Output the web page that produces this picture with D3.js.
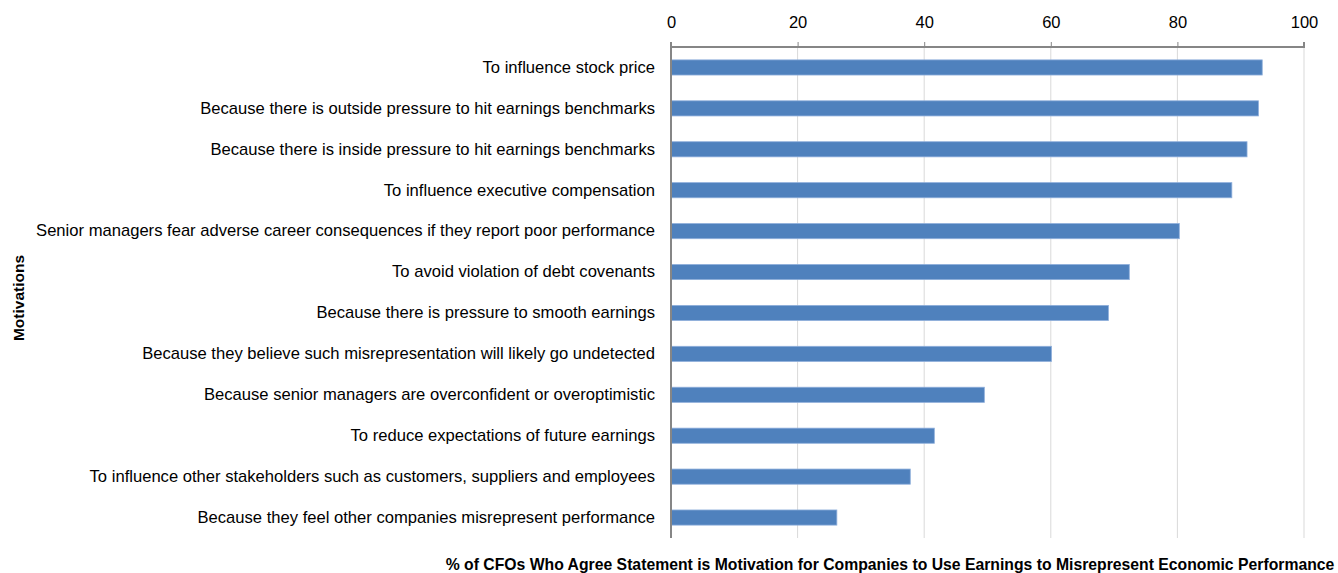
<!DOCTYPE html>
<html lang="en">
<head>
    <meta charset="UTF-8">
    <title>Motivations</title>
    <script src="https://cdn.jsdelivr.net/npm/d3@7"></script>
    <style>
        body { margin: 0; background: #fff; }
        text { font-family: "Liberation Sans", Arial, sans-serif; fill: #000; }
        .bold { font-weight: bold; }
    </style>
</head>
<body>
    <div id="chart"></div>
    <script>
        var categories = [
            "To influence stock price",
            "Because there is outside pressure to hit earnings benchmarks",
            "Because there is inside pressure to hit earnings benchmarks",
            "To influence executive compensation",
            "Senior managers fear adverse career consequences if they report poor performance",
            "To avoid violation of debt covenants",
            "Because there is pressure to smooth earnings",
            "Because they believe such misrepresentation will likely go undetected",
            "Because senior managers are overconfident or overoptimistic",
            "To reduce expectations of future earnings",
            "To influence other stakeholders such as customers, suppliers and employees",
            "Because they feel other companies misrepresent performance"
        ];
        var values = [93.4, 92.8, 91.0, 88.6, 80.3, 72.4, 69.1, 60.1, 49.5, 41.6, 37.8, 26.2];
        var ticks = [0, 20, 40, 60, 80, 100];

        var W = 1338, H = 573;
        var margin = { top: 47, right: 34, bottom: 35, left: 671 };
        var width = W - margin.left - margin.right,
            height = H - margin.top - margin.bottom;

        var svg = d3.select("#chart").append("svg")
            .attr("width", W)
            .attr("height", H);
        var g = svg.append("g")
            .attr("transform", "translate(" + margin.left + "," + margin.top + ")");

        var x = d3.scaleLinear().domain([0, 100]).range([0, width]);
        var y = d3.scaleBand().domain(categories).range([0, height]).paddingInner(0.63).paddingOuter(0.315);

        // gridlines
        g.append("g").selectAll("line")
            .data(ticks.slice(1))
            .enter().append("line")
            .attr("x1", function (d) { return x(d); })
            .attr("x2", function (d) { return x(d); })
            .attr("y1", 0)
            .attr("y2", height)
            .style("stroke", "#d9d9d9")
            .style("stroke-width", 1);

        // bars
        g.append("g").selectAll("rect")
            .data(values)
            .enter().append("rect")
            .attr("x", 0.5)
            .attr("y", function (d, i) { return y(categories[i]); })
            .attr("width", function (d) { return x(d) - 0.5; })
            .attr("height", y.bandwidth())
            .style("fill", "#4f81bd")
            .style("stroke", "#8eaedb")
            .style("stroke-width", 0.8);

        // top axis
        var xAxis = g.append("g")
            .call(d3.axisTop(x).tickValues(ticks).tickSize(5).tickPadding(14));
        xAxis.select(".domain").attr("d", "M0,-5V0H" + width + "V-5").style("stroke", "#868686").style("stroke-width", 2);
        xAxis.selectAll(".tick line").style("stroke", "#868686");
        xAxis.selectAll(".tick text").attr("dy", 0).style("font-size", "16.5px").style("fill", "#000").attr("font-family", "Liberation Sans, Arial, sans-serif");

        // left axis
        var yAxis = g.append("g")
            .call(d3.axisLeft(y).tickSize(0).tickPadding(16));
        yAxis.select(".domain").attr("d", "M0,0V" + height).style("stroke", "#868686").style("stroke-width", 2);
        yAxis.selectAll(".tick text").style("font-size", "16.6px").style("fill", "#000").attr("font-family", "Liberation Sans, Arial, sans-serif");

        // axis titles
        svg.append("text")
            .attr("class", "bold")
            .attr("x", 890)
            .attr("y", 570)
            .attr("text-anchor", "middle")
            .style("font-size", "15.75px")
            .text("% of CFOs Who Agree Statement is Motivation for Companies to Use Earnings to Misrepresent Economic Performance");

        svg.append("text")
            .attr("class", "bold")
            .attr("transform", "translate(24,298) rotate(-90)")
            .attr("text-anchor", "middle")
            .style("font-size", "15.5px")
            .text("Motivations");
    </script>
</body>
</html>
